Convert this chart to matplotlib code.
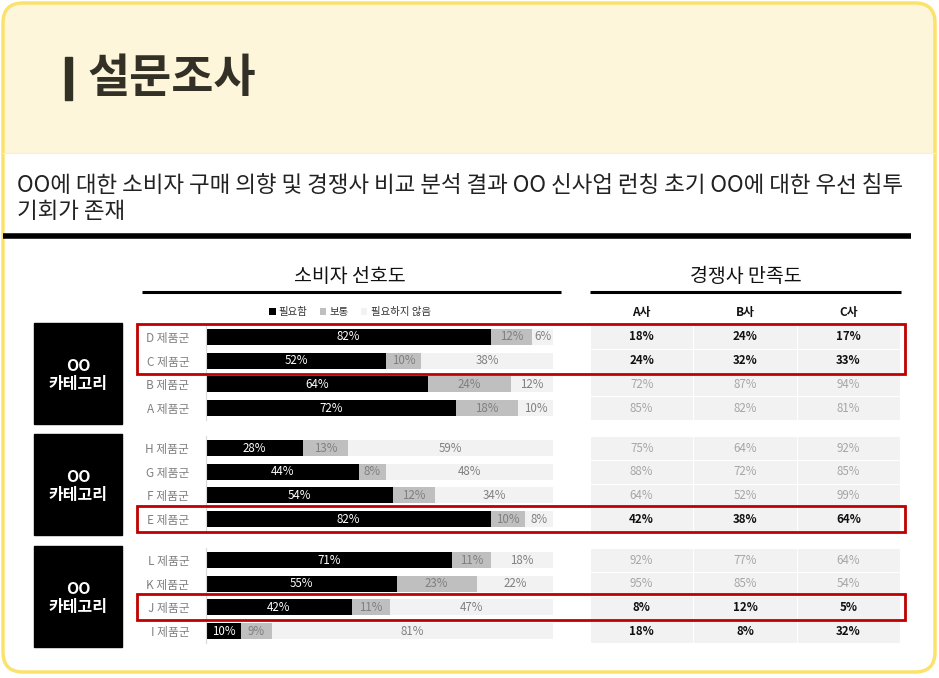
import numpy as np
import matplotlib
matplotlib.use("Agg")
import matplotlib.pyplot as plt
from matplotlib.patches import FancyBboxPatch, Rectangle
from matplotlib.colors import ListedColormap

plt.rcParams["font.family"] = ["Noto Sans CJK KR", "DejaVu Sans"]

# ---- data ----
title = "설문조사"
subtitle = ["OO에 대한 소비자 구매 의향 및 경쟁사 비교 분석 결과 OO 신사업 런칭 초기 OO에 대한 우선 침투",
            "기회가 존재"]
left_header = "소비자 선호도"
right_header = "경쟁사 만족도"
series_names = ["필요함", "보통", "필요하지 않음"]
companies = ["A사", "B사", "C사"]
category_label = "OO\n카테고리"

products = [["D 제품군", "C 제품군", "B 제품군", "A 제품군"],
            ["H 제품군", "G 제품군", "F 제품군", "E 제품군"],
            ["L 제품군", "K 제품군", "J 제품군", "I 제품군"]]
need = [[82, 52, 64, 72], [28, 44, 54, 82], [71, 55, 42, 10]]
normal = [[12, 10, 24, 18], [13, 8, 12, 10], [11, 23, 11, 9]]
not_need = [[6, 38, 12, 10], [59, 48, 34, 8], [18, 22, 47, 81]]

sat_a = [[18, 24, 72, 85], [75, 88, 64, 42], [92, 95, 8, 18]]
sat_b = [[24, 32, 87, 82], [64, 72, 52, 38], [77, 85, 12, 8]]
sat_c = [[17, 33, 94, 81], [92, 85, 99, 64], [64, 54, 5, 32]]
bold_rows = [[1, 1, 0, 0], [0, 0, 0, 1], [0, 0, 1, 1]]
# highlighted rows: (group, first row, last row)
highlights = [(0, 0, 1), (1, 3, 3), (2, 2, 2)]

# ---- layout (pixels) ----
W, H = 939, 678
first_row_y = [337, 448, 560]
pitch = 23.7
bar_x0, bar_x1 = 206, 553
tab_x0, tab_x1 = 590, 900
seg_colors = ["#000000", "#BFBFBF", "#F2F2F2"]
txt_colors = ["white", "#7F7F7F", "#808080"]

fig = plt.figure(figsize=(W / 100, H / 100), dpi=100)


def fax(x0, y0, x1, y1, **kw):
    return fig.add_axes([x0 / W, 1 - y1 / H, (x1 - x0) / W, (y1 - y0) / H], **kw)


bg = fax(0, 0, W, H, zorder=0)
bg.set_xlim(0, W)
bg.set_ylim(H, 0)
bg.axis("off")

# frame
frame = FancyBboxPatch((3, 3), 932, 669, boxstyle="round,pad=0,rounding_size=20",
                       facecolor="#FEF6DA", edgecolor="none")
bg.add_patch(frame)
white = Rectangle((0, 153), W, H, facecolor="white", edgecolor="none")
bg.add_patch(white)
white.set_clip_path(frame)
bg.plot([3, 935], [153, 153], color="#EEEEEE", lw=0.8)
bg.add_patch(FancyBboxPatch((3, 3), 932, 669, boxstyle="round,pad=0,rounding_size=20",
                            facecolor="none", edgecolor="#FBE26C", lw=2.5))

# title
bg.add_patch(Rectangle((65, 57), 7, 43, color="#333026"))
bg.text(87, 79, title, fontsize=33, fontweight="bold", color="#333026", va="center")
bg.text(17, 185, subtitle[0], fontsize=16.2, color="#222222", va="center")
bg.text(17, 211, subtitle[1], fontsize=16.2, color="#222222", va="center")
bg.plot([3, 911], [236, 236], color="black", lw=4, solid_capstyle="butt")

# section headers
bg.text(350, 277, left_header, fontsize=14, ha="center", va="center", color="#111111")
bg.plot([142, 561], [292, 292], color="black", lw=2.2, solid_capstyle="butt")
bg.text(746, 276, right_header, fontsize=14, ha="center", va="center", color="#111111")
bg.plot([590, 901], [292, 292], color="black", lw=2.2, solid_capstyle="butt")

handles = None
for g in range(3):
    top = first_row_y[g] - pitch / 2
    bottom = top + 4 * pitch

    # category box
    bg.add_patch(Rectangle((34, top - 2), 88, bottom - top + 6, color="black"))
    bg.text(78, (top + bottom) / 2 + 2, category_label, color="white", fontsize=11.5,
            fontweight="bold", ha="center", va="center", linespacing=1.15)

    # stacked bars
    ax = fax(bar_x0, top, bar_x1, bottom)
    ax.patch.set_alpha(0)
    y = np.arange(4)
    left = np.zeros(4)
    conts = []
    for vals, c, tc in zip([need[g], normal[g], not_need[g]], seg_colors, txt_colors):
        vals = np.array(vals)
        bc = ax.barh(y, vals, left=left, height=0.68, color=c)
        ax.bar_label(bc, labels=[f"{v}%" for v in vals], label_type="center",
                     color=tc, fontsize=8.3)
        left = left + vals
        conts.append(bc)
    if g == 0:
        handles = conts
    ax.set_xlim(0, 100)
    ax.set_ylim(3.5, -0.5)
    ax.set_yticks(y, products[g])
    ax.tick_params(axis="y", length=0, pad=12, labelsize=8.5, labelcolor="#808080")
    ax.set_xticks([])
    for s in ["top", "right", "bottom"]:
        ax.spines[s].set_visible(False)
    ax.spines["left"].set_color("#D9D9D9")
    ax.spines["left"].set_linewidth(0.8)

    # satisfaction table
    tx = fax(tab_x0, top, tab_x1, bottom)
    tx.pcolormesh(np.zeros((4, 3)), cmap=ListedColormap(["#F2F2F2"]),
                  edgecolors="white", linewidth=0.6)
    tx.set_xlim(0, 3)
    tx.set_ylim(4, 0)
    tx.axis("off")
    for r in range(4):
        for c, col in enumerate([sat_a, sat_b, sat_c]):
            b = bold_rows[g][r]
            tx.text(c + 0.5, r + 0.5, f"{col[g][r]}%", ha="center", va="center",
                    fontsize=8.3, fontweight="bold" if b else "normal",
                    color="#111111" if b else "#A6A6A6")
    if g == 0:
        for c, name in enumerate(companies):
            tx.text(c + 0.5, -0.55, name, ha="center", va="center", fontsize=8.5,
                    fontweight="bold", color="#111111", clip_on=False)

# legend
fig.legend(handles, series_names, loc="center", bbox_to_anchor=(350 / W, 1 - 312 / H),
           ncol=3, frameon=False, fontsize=7.5, handlelength=0.6, handleheight=0.6,
           handletextpad=0.3, columnspacing=1.2, labelcolor="#333333")

# highlight boxes on a top layer
red = fax(0, 0, W, H, zorder=30)
red.set_xlim(0, W)
red.set_ylim(H, 0)
red.axis("off")
red.patch.set_alpha(0)
for g, r0, r1 in highlights:
    top = first_row_y[g] - pitch / 2
    y0 = top + r0 * pitch - 1.5
    y1 = top + (r1 + 1) * pitch + 1
    red.add_patch(Rectangle((137, y0), 905 - 137, y1 - y0, facecolor="none",
                            edgecolor="#C00000", lw=2))

fig.savefig("out.png", dpi=100)
